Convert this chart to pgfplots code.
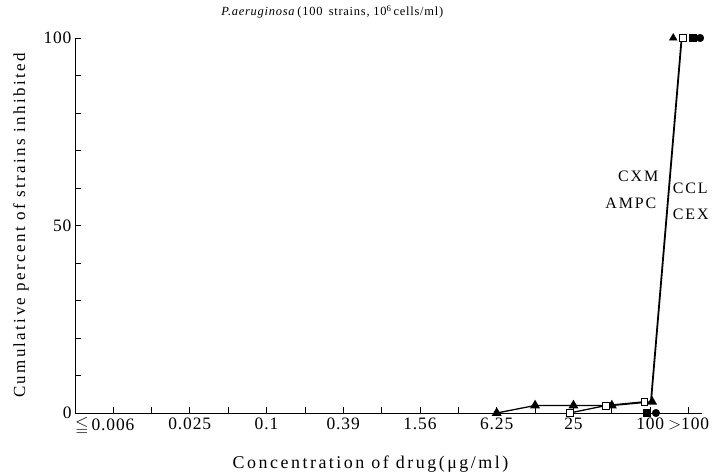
\documentclass[border=0pt]{standalone}
\usepackage{amssymb}
\usepackage{fontspec}
\setmainfont{Liberation Serif}[LetterSpace=8.0]
\usepackage{pgfplots}
\pgfplotsset{compat=1.18}
\begin{document}
\begin{tikzpicture}
\begin{axis}[
  at={(0,0)}, anchor=south west,
  scale only axis, width=627bp, height=375bp,
  xmin=-0.99, xmax=15.35, ymin=0, ymax=100,
  axis lines=left, axis line style={-, line width=0.8pt},
  tick align=inside, major tick length=6bp, minor tick length=6bp,
  tick style={black, line width=0.7pt},
  xtick={0,...,15},
  xticklabels={{\llap{$\leqq$\,}0.006},,0.025,,0.1,,0.39,,1.56,,6.25,,25,,100,$>$100},
  ytick={0,50,100},
  minor ytick={10,20,30,40,60,70,80,90},
  /pgf/number format/assume math mode=true,
  tick label style={font=\fontsize{17.5}{19}\selectfont\addfontfeatures{LetterSpace=5.0}},
  xticklabel style={yshift=-1bp},
  xlabel={Concentration of drug(μg/ml)},
  ylabel={Cumulative percent of strains inhibited},
  xlabel style={font=\fontsize{18}{20}\selectfont\addfontfeatures{LetterSpace=14.0}, xshift=-18bp, yshift=-14bp},
  ylabel style={font=\fontsize{17}{19}\selectfont\addfontfeatures{LetterSpace=14.0}, yshift=8bp},
  clip=false,
]
% triangle series (bottom with line)
\addplot[black, line width=1.3pt, mark=triangle*, mark size=4.5pt, mark options={solid}]
  coordinates {(10,0) (11,2) (12,2) (13,2) (14.05,3)};
% open square series line
\addplot[black, line width=1.3pt, mark=none]
  coordinates {(11.9,0) (12.85,2) (13.85,3)};
% steep rise to 100
\addplot[black, line width=1.8pt, mark=none]
  coordinates {(14.02,3) (14.82,100)};
% top markers
\addplot[only marks, black, mark=triangle*, mark size=4.5pt] coordinates {(14.6,100)};
\addplot[only marks, black, mark=square*, mark size=3.5pt] coordinates {(13.9,0) (15.1,100)};
\addplot[only marks, black, mark=*, mark size=3.8pt] coordinates {(14.15,0) (15.3,100)};
\addplot[only marks, black, mark=square*, mark size=3.5pt, mark options={fill=white, line width=0.9pt}]
  coordinates {(11.9,0) (12.85,2) (13.85,3) (14.85,100)};
% labels
\node[anchor=east, font=\fontsize{16}{18}\selectfont\addfontfeatures{LetterSpace=12.0}] at (axis cs:14.3,63) {CXM};
\node[anchor=east, font=\fontsize{16}{18}\selectfont\addfontfeatures{LetterSpace=12.0}] at (axis cs:14.25,56) {AMPC};
\node[anchor=west, font=\fontsize{16}{18}\selectfont\addfontfeatures{LetterSpace=12.0}] at (axis cs:14.5,60) {CCL};
\node[anchor=west, font=\fontsize{16}{18}\selectfont\addfontfeatures{LetterSpace=12.0}] at (axis cs:14.5,53) {CEX};
\node[anchor=west, font=\fontsize{12.5}{14}\selectfont\addfontfeatures{LetterSpace=6.0}] at (axis cs:2.73,107) {\textit{P.aeruginosa}\,(100\enspace strains, 10\textsuperscript{6}\,cells/ml)};
\end{axis}
\pgfresetboundingbox
\useasboundingbox (-75bp,-61bp) rectangle (640bp,413bp);
\end{tikzpicture}
\end{document}
